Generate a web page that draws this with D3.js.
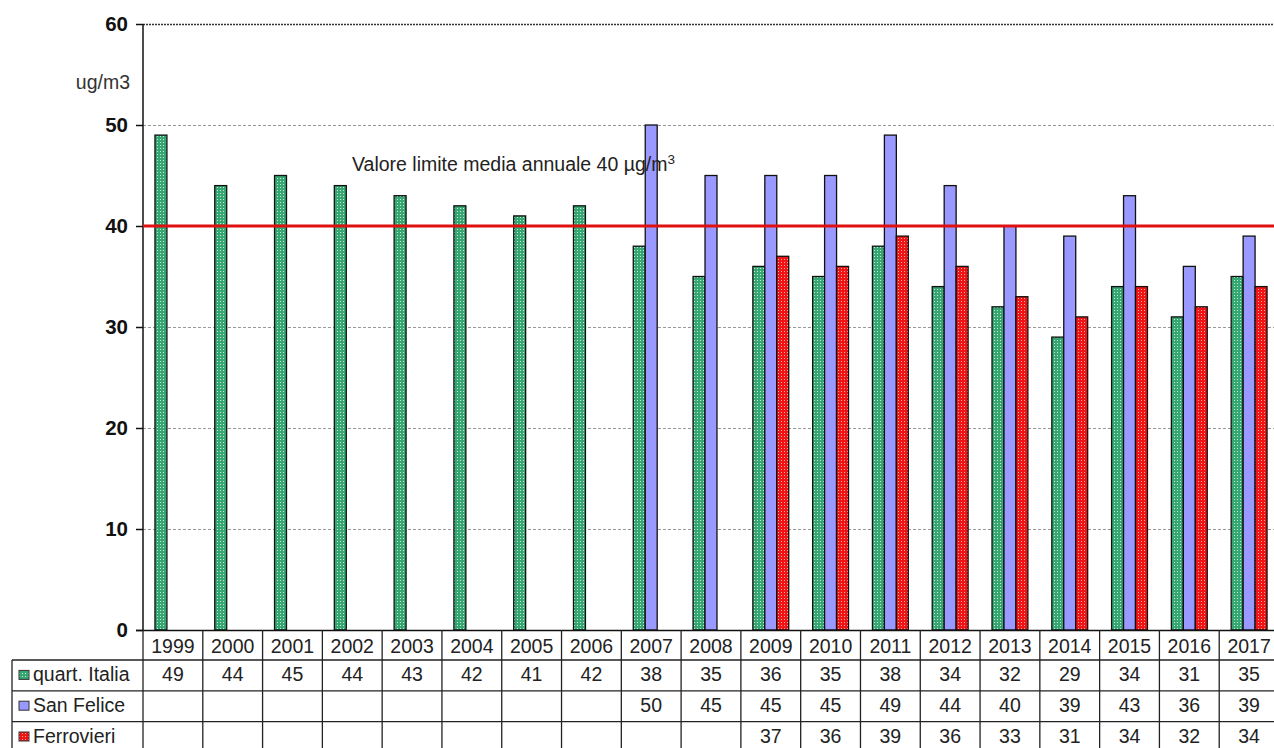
<!DOCTYPE html>
<html>
<head>
<meta charset="utf-8">
<script src="https://cdn.jsdelivr.net/npm/d3@7"></script>
<style>
  html, body { margin: 0; padding: 0; background: #fff; }
  svg { display: block; font-family: Arial, "Liberation Sans", sans-serif; }
</style>
</head>
<body>
<svg id="chart" width="1274" height="748"></svg>
<script>
// Annual mean concentrations (ug/m3) by monitoring station
const years = ["1999","2000","2001","2002","2003","2004","2005","2006","2007","2008",
               "2009","2010","2011","2012","2013","2014","2015","2016","2017"];
const seriesNames = ["quart. Italia", "San Felice", "Ferrovieri"];
const quartItalia = [49,44,45,44,43,42,41,42,38,35,36,35,38,34,32,29,34,31,35];
const sanFelice   = [null,null,null,null,null,null,null,null,50,45,45,45,49,44,40,39,43,36,39];
const ferrovieri  = [null,null,null,null,null,null,null,null,null,null,37,36,39,36,33,31,34,32,34];
const yTicks = [0,10,20,30,40,50,60];
const limitValue = 40;
const limitLabel = "Valore limite media annuale 40 µg/m";
const unitLabel = "ug/m3";

const seriesValues = [quartItalia, sanFelice, ferrovieri];
const fills = ["url(#patGreen)", "#9999ff", "url(#patRed)"];

const svg = d3.select("#chart");

// Pattern fills for the dotted bars
const defs = svg.append("defs");
function dotPattern(id, base, dot) {
  const p = defs.append("pattern").attr("id", id)
    .attr("patternUnits", "userSpaceOnUse").attr("width", 3).attr("height", 3);
  p.append("rect").attr("width", 3).attr("height", 3).attr("fill", base);
  p.append("rect").attr("x", 1).attr("y", 1).attr("width", 1).attr("height", 1).attr("fill", dot);
  return p;
}
dotPattern("patGreen", "#36a673", "#c8ecd8");
dotPattern("patRed", "#f01414", "#ffa8a8");

const plotLeft = 143, plotRight = 1279, plotTop = 24, plotBottom = 630;
const fontSize = 19.5;

const x = d3.scaleBand().domain(years).range([plotLeft, plotRight]).paddingInner(0).paddingOuter(0);
const xs = d3.scaleBand().domain(seriesNames).range([0, x.bandwidth()]).paddingInner(0).paddingOuter(1);
const y = d3.scaleLinear().domain([0, 60]).range([plotBottom, plotTop]);

// Gridlines
svg.append("g").selectAll("line").data(yTicks.filter(d => d > 0)).join("line")
  .attr("x1", plotLeft).attr("x2", plotRight)
  .attr("y1", d => y(d) + 0.5).attr("y2", d => y(d) + 0.5)
  .attr("stroke", d => d === 60 ? "#333" : "#999")
  .attr("stroke-width", d => d === 60 ? 1.5 : 1)
  .attr("stroke-dasharray", d => d === 60 ? "2,1" : "3,2");

// Y axis
const yAxis = svg.append("g").attr("transform", `translate(${plotLeft},0)`)
  .call(d3.axisLeft(y).tickValues(yTicks).tickSize(7).tickPadding(8).tickFormat(d3.format("d")));
yAxis.attr("font-size", null).attr("font-family", null);
yAxis.select(".domain").attr("stroke", "#111").attr("stroke-width", 1.5).attr("d", `M0,${plotTop}V${plotBottom}`);
yAxis.selectAll(".tick line").attr("stroke", "#111").attr("stroke-width", 1.5);
yAxis.selectAll(".tick text").attr("font-size", 20.5).attr("font-weight", "bold").attr("fill", "#111");

svg.append("text").attr("x", 130).attr("y", 89).attr("text-anchor", "end")
  .attr("font-size", fontSize).attr("fill", "#333").text(unitLabel);

// Bars
const groups = svg.append("g").selectAll("g").data(seriesNames).join("g");
groups.each(function(name, si) {
  const vals = seriesValues[si].map((v, i) => ({ year: years[i], v }));
  d3.select(this).selectAll("rect").data(vals.filter(d => d.v != null)).join("rect")
    .attr("x", d => x(d.year) + xs(name))
    .attr("width", xs.bandwidth())
    .attr("y", d => y(d.v))
    .attr("height", d => y(0) - y(d.v))
    .attr("fill", fills[si])
    .attr("stroke", "#111").attr("stroke-width", 1.3);
});

// Limit line
svg.append("line").attr("x1", plotLeft).attr("x2", plotRight)
  .attr("y1", y(limitValue)).attr("y2", y(limitValue))
  .attr("stroke", "#e01010").attr("stroke-width", 3);

const lt = svg.append("text").attr("x", 352).attr("y", 171).attr("font-size", 19.5).attr("fill", "#222");
lt.append("tspan").text(limitLabel);
lt.append("tspan").attr("dy", -7).attr("font-size", 13.5).text("3");

// X axis baseline
svg.append("line").attr("x1", plotLeft - 7).attr("x2", plotRight)
  .attr("y1", plotBottom + 0.5).attr("y2", plotBottom + 0.5)
  .attr("stroke", "#111").attr("stroke-width", 1.5);

// Data table
const headerH = 30;
const rowH = 30.8;
const rowTop = r => plotBottom + headerH + r * rowH;
const tableLeft = 12;
const table = svg.append("g");
const lineColor = "#222";

// Column separators
table.selectAll("line.col").data(d3.range(years.length + 1)).join("line")
  .attr("class", "col")
  .attr("x1", i => plotLeft + i * x.step()).attr("x2", i => plotLeft + i * x.step())
  .attr("y1", plotBottom).attr("y2", 760)
  .attr("stroke", lineColor).attr("stroke-width", 1.3);
// Row separators
table.selectAll("line.row").data([0, 1, 2, 3]).join("line")
  .attr("class", "row")
  .attr("x1", tableLeft).attr("x2", plotRight)
  .attr("y1", r => rowTop(r)).attr("y2", r => rowTop(r))
  .attr("stroke", lineColor).attr("stroke-width", 1.3);
table.append("line").attr("x1", tableLeft).attr("x2", tableLeft)
  .attr("y1", rowTop(0)).attr("y2", 760)
  .attr("stroke", lineColor).attr("stroke-width", 1.3);

// Year header
table.selectAll("text.year").data(years).join("text")
  .attr("class", "year")
  .attr("x", d => x(d) + x.bandwidth() / 2).attr("y", plotBottom + 23)
  .attr("text-anchor", "middle").attr("font-size", fontSize).attr("fill", "#222").text(d => d);

// Series rows
seriesNames.forEach((name, si) => {
  const ry = rowTop(si);
  table.append("rect").attr("x", 19).attr("y", ry + rowH / 2 - 5)
    .attr("width", 10).attr("height", 9)
    .attr("fill", fills[si]).attr("stroke", "#333").attr("stroke-width", 1);
  table.append("text").attr("x", 33).attr("y", ry + 21)
    .attr("font-size", fontSize).attr("fill", "#222").text(name);
  const vals = seriesValues[si].map((v, i) => ({ year: years[i], v }));
  table.append("g").selectAll("text").data(vals.filter(d => d.v != null)).join("text")
    .attr("x", d => x(d.year) + x.bandwidth() / 2).attr("y", ry + 21)
    .attr("text-anchor", "middle").attr("font-size", fontSize).attr("fill", "#222").text(d => d.v);
});
</script>
</body>
</html>
